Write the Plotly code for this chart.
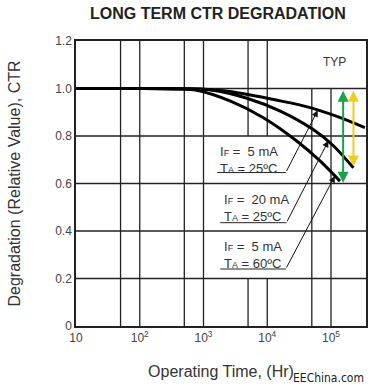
import numpy as np
import plotly.graph_objects as go

# ---- data ----
hours_a = [10, 100, 900, 2600, 16000, 32000, 60000, 140000, 340000]
ctr_5mA_25C = [1.0, 1.0, 0.998, 0.987, 0.948, 0.931, 0.911, 0.877, 0.835]

hours_b = [10, 100, 600, 1400, 4800, 16000, 52000, 110000, 225000]
ctr_20mA_25C = [1.0, 1.0, 0.998, 0.993, 0.959, 0.905, 0.828, 0.758, 0.666]

hours_c = [10, 100, 400, 780, 2600, 8700, 29000, 68000, 138000]
ctr_5mA_60C = [1.0, 1.0, 0.998, 0.993, 0.948, 0.877, 0.779, 0.694, 0.610]

x_tickvals = [10, 100, 1000, 10000, 100000]
x_ticktext = ["10", "10<sup>2</sup>", "10<sup>3</sup>", "10<sup>4</sup>", "10<sup>5</sup>"]
y_tickvals = [0, 0.2, 0.4, 0.6, 0.8, 1.0, 1.2]
y_ticktext = ["0", "0.2", "0.4", "0.6", "0.8", "1.0", "1.2"]

grid_full = [50, 100, 500, 1000]
grid_split = [5000, 10000]
grid_low = [50000, 100000]
grid_h = [0.2, 0.4, 0.6, 0.8, 1.0]

X_MAX = 10 ** 5.549

label_texts = [
    "I<span style='font-size:9px'>F</span> =  5 mA<br>T<span style='font-size:9px'>A</span> = 25ºC",
    "I<span style='font-size:9px'>F</span> =  20 mA<br>T<span style='font-size:9px'>A</span> = 25ºC",
    "I<span style='font-size:9px'>F</span> =  5 mA<br>T<span style='font-size:9px'>A</span> = 60ºC",
]
label_pos = [(1700, 0.70), (1950, 0.495), (1950, 0.30)]
underline_y = [0.646, 0.435, 0.240]
underline_x = [(1650, 19500), (1830, 20000), (1830, 19500)]
arrow_tips = [(62000, 0.908), (91000, 0.78), (115000, 0.632)]

green_x, green_range = 155000, (0.603, 0.997)
yellow_x, yellow_range = 225000, (0.672, 0.997)

FONT = "Liberation Sans, Arial"

fig = go.Figure()
for hx, hy in [(hours_a, ctr_5mA_25C), (hours_b, ctr_20mA_25C), (hours_c, ctr_5mA_60C)]:
    fig.add_trace(go.Scatter(x=hx, y=hy, mode="lines",
                             line=dict(color="black", width=3, shape="spline", smoothing=0.8),
                             showlegend=False, hoverinfo="skip"))

shapes = []
gl = dict(color="#222", width=1.3)
for gx in grid_full:
    shapes.append(dict(type="line", x0=gx, x1=gx, y0=0, y1=1.2, xref="x", yref="y", line=gl, layer="below"))
for gx in grid_split:
    shapes.append(dict(type="line", x0=gx, x1=gx, y0=0, y1=0.2, xref="x", yref="y", line=gl, layer="below"))
    shapes.append(dict(type="line", x0=gx, x1=gx, y0=0.8, y1=1.2, xref="x", yref="y", line=gl, layer="below"))
for gx in grid_low:
    shapes.append(dict(type="line", x0=gx, x1=gx, y0=0, y1=1.0, xref="x", yref="y", line=gl, layer="below"))
for gy in grid_h:
    shapes.append(dict(type="line", x0=10, x1=X_MAX, y0=gy, y1=gy, xref="x", yref="y", line=gl, layer="below"))
for (ux0, ux1), uy in zip(underline_x, underline_y):
    shapes.append(dict(type="line", x0=ux0, x1=ux1, y0=uy, y1=uy, xref="x", yref="y",
                       line=dict(color="#222", width=1)))
fig.update_layout(shapes=shapes)

ann = []
for txt, (lx, ly) in zip(label_texts, label_pos):
    ann.append(dict(x=np.log10(lx), y=ly, xref="x", yref="y", text=txt, showarrow=False,
                    xanchor="left", yanchor="middle", align="left",
                    font=dict(family=FONT, size=13, color="#333")))
for (ux0, ux1), uy, (tx, ty) in zip(underline_x, underline_y, arrow_tips):
    ann.append(dict(x=np.log10(tx), y=ty, ax=np.log10(ux1), ay=uy, xref="x", yref="y",
                    axref="x", ayref="y", text="", showarrow=True, arrowhead=2,
                    arrowsize=1.3, arrowwidth=1, arrowcolor="#111", standoff=0))
ann.append(dict(x=np.log10(green_x), y=green_range[0], ax=np.log10(green_x), ay=green_range[1],
                xref="x", yref="y", axref="x", ayref="y", text="", showarrow=True,
                arrowhead=2, startarrowhead=2, arrowside="end+start", arrowsize=1.1,
                startarrowsize=1.1, arrowwidth=2, arrowcolor="#17a34a"))
ann.append(dict(x=np.log10(yellow_x), y=yellow_range[0], ax=np.log10(yellow_x), ay=yellow_range[1],
                xref="x", yref="y", axref="x", ayref="y", text="", showarrow=True,
                arrowhead=2, startarrowhead=2, arrowside="end+start", arrowsize=1.1,
                startarrowsize=1.1, arrowwidth=2, arrowcolor="#f2cc1c"))
ann.append(dict(x=np.log10(115000), y=1.11, xref="x", yref="y", text="TYP", showarrow=False,
                font=dict(family=FONT, size=12, color="#333")))
ann.append(dict(x=0.5, y=1, xref="paper", yref="paper", yshift=28, xshift=-3,
                text="<b>LONG TERM CTR DEGRADATION</b>",
                showarrow=False, yanchor="middle",
                font=dict(family=FONT, size=16, color="#222")))
ann.append(dict(x=1, y=0, xref="paper", yref="paper", yshift=-52, xshift=0, text="EEChina.com",
                showarrow=False, xanchor="right", yanchor="middle",
                font=dict(family="DejaVu Sans Condensed, DejaVu Sans", size=12, color="#222")))
fig.update_layout(annotations=ann)

fig.update_xaxes(type="log", range=[1, np.log10(X_MAX)], tickvals=x_tickvals, ticktext=x_ticktext,
                 showgrid=False, zeroline=False, showline=True, mirror=True, linecolor="#222",
                 linewidth=1.5, ticks="", automargin=False,
                 tickfont=dict(family=FONT, size=12, color="#444"),
                 title=dict(text="Operating Time, (Hr)", standoff=22,
                            font=dict(family=FONT, size=16, color="#333")))
fig.update_yaxes(range=[0, 1.2], tickvals=y_tickvals, ticktext=y_ticktext,
                 showgrid=False, zeroline=False, showline=True, mirror=True, linecolor="#222",
                 linewidth=1.5, ticks="", automargin=False,
                 tickfont=dict(family=FONT, size=12, color="#444"),
                 title=dict(text="Degradation (Relative Value), CTR", standoff=31,
                            font=dict(family=FONT, size=16, color="#333")))

fig.update_layout(width=372, height=390, margin=dict(l=76, r=6, t=41, b=64),
                  paper_bgcolor="white", plot_bgcolor="white", showlegend=False)
fig.write_html("out.html", config={"displayModeBar": False},
               post_script="document.body.style.margin='0';document.body.style.overflow='hidden';")
